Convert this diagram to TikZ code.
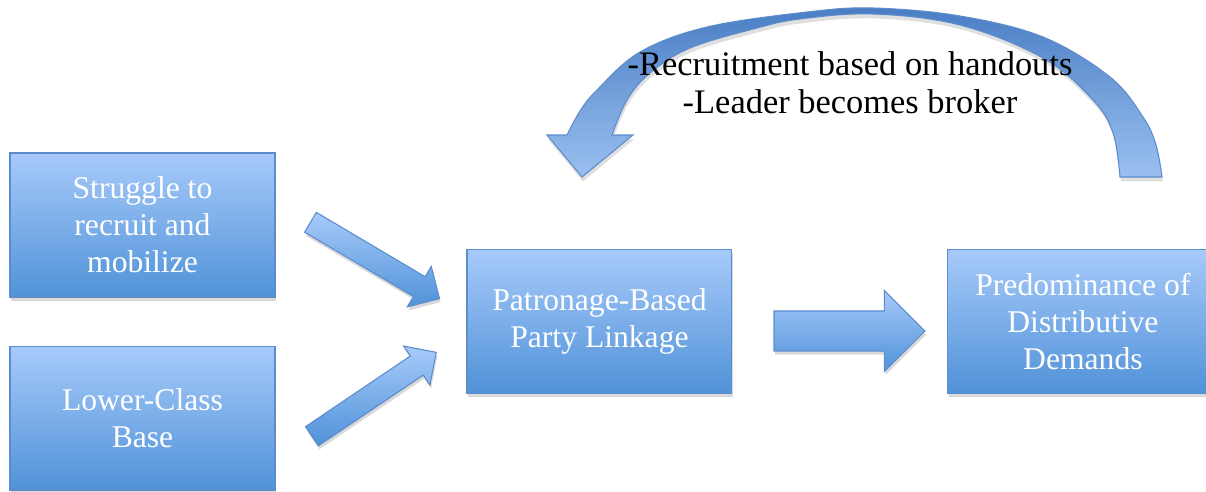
\documentclass[tikz,border=0pt]{standalone}
\usepackage{fontspec}
\setmainfont{Liberation Serif}
\usetikzlibrary{shapes,arrows,calc,positioning,shadows}
\definecolor{boxtop}{RGB}{167,202,250}
\definecolor{boxbot}{RGB}{80,146,216}
\definecolor{boxline}{RGB}{92,140,204}
\definecolor{looptop}{RGB}{74,126,196}
\definecolor{loopbot}{RGB}{155,192,240}
\tikzset{box/.style={draw=boxline, line width=0.6pt, top color=boxtop, bottom color=boxbot, minimum width=5.3cm, minimum height=2.88cm, align=center, text=white, font=\fontsize{18}{21}\selectfont, drop shadow={shadow xshift=0.6pt, shadow yshift=-2.2pt, opacity=0.3}}}
\tikzstyle{fat}=[single arrow, draw=boxline, line width=0.6pt, top color=boxtop, bottom color=boxbot, inner sep=0pt, anchor=tail, drop shadow={shadow xshift=0.6pt, shadow yshift=-2pt, opacity=0.3}]
\tikzstyle{thinfat}=[fat, inner ysep=0.22cm, single arrow head extend=0.24cm, minimum height=3cm]
\tikzstyle{widefat}=[fat, inner ysep=0.39cm, single arrow head extend=0.41cm, minimum height=3.02cm]

\begin{document}
\begin{tikzpicture}[x=0.02cm, y=0.02cm]
\useasboundingbox (0,0) rectangle (1206,-491);
\node[box] (sA) at (142.5,-225) {Struggle to\\recruit and\\mobilize};
\node[box, below=0.96cm of sA] (sB) {Lower-Class\\Base};
\coordinate (mid) at ($(sA.east)!0.5!(sB.east)$);
\node[box, right=3.82cm of mid] (sC) {Patronage-Based\\Party Linkage};
\node[box, right=4.3cm of sC, minimum width=5.4cm] (sD) {Predominance of\\Distributive\\Demands};

\node[thinfat, rotate=-30.6] (a1) at ($(sA.east)+(34.5,3)$) {};
\node[thinfat, rotate=34] (a2) at ($(sB.east)+(36,-18.5)$) {};
\node[widefat] (a3) at ($(sC.east)+(41,-9.5)$) {};

% feedback loop, from D back over to C
\draw[draw=boxline, line width=0.6pt, top color=looptop, bottom color=loopbot, drop shadow={shadow xshift=0.6pt, shadow yshift=-2.5pt, opacity=0.25}]
  (567,-135) -- plot[smooth, tension=0.6] coordinates {(567,-135) (580,-111) (597,-90) (640,-52) (707,-27) (807,-12) (873,-8) (960,-16) (1043,-37) (1110,-77) (1143,-117) (1156,-145) (1162,-177)}
  -- (1120,-177)
  -- plot[smooth, tension=0.6] coordinates {(1120,-177) (1113,-133) (1093,-100) (1043,-58) (960,-25) (873,-14) (800,-19) (757,-28) (690,-48) (650,-73) (627,-100) (612,-135)}
  -- (633,-135) -- (582,-177) -- (547,-135) -- cycle;
\node[align=center, font=\fontsize{19.6}{21.6}\selectfont] (lbl) at (850,-83) {-Recruitment based on handouts\\-Leader becomes broker};
\end{tikzpicture}
\end{document}
